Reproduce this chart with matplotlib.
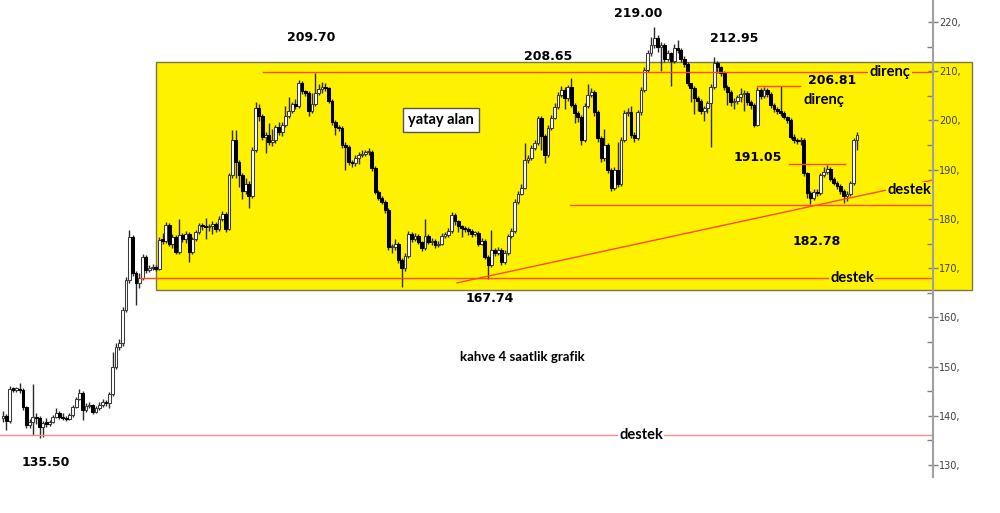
import numpy as np
import matplotlib.pyplot as plt
import matplotlib.patches as mpatches
from matplotlib.ticker import MultipleLocator, FuncFormatter

# kahve 4 saatlik mum verisi
first_open = 139.5
closes = [
    140.0, 139.0, 145.5, 145.3, 145.4, 145.2, 141.8, 138.1, 138.8, 139.8,
    139.5, 137.7, 138.6, 138.4, 138.8, 139.8, 140.5, 139.8, 139.6, 139.4,
    140.2, 141.8, 143.4, 144.6, 141.2, 142.0, 142.2, 140.8, 141.6, 142.2,
    142.8, 142.6, 144.4, 150.0, 154.0, 154.8, 161.5, 167.6, 176.3, 169.0,
    167.0, 168.0, 172.3, 169.6, 170.0, 170.2, 169.8, 175.7,
    175.6, 178.8, 175.0, 176.4, 173.3, 176.8, 176.0, 177.0, 173.3, 176.0,
    177.3, 178.8, 178.6, 178.3, 178.5, 179.0, 178.0, 180.0, 181.0, 178.0,
    188.9, 196.0, 191.6, 188.9, 185.6, 187.0, 184.7, 194.0, 202.6, 201.0,
    196.7, 197.0, 195.7, 196.0, 198.6, 197.7, 199.0, 201.0, 202.0, 203.4,
    203.0, 207.6, 206.0, 205.6, 202.0, 203.4, 205.6, 206.4, 206.8, 206.6,
    204.0, 199.6, 198.6, 198.4, 195.0, 194.6, 191.6, 191.4,
    192.4, 193.0, 193.2, 193.6, 193.6, 190.4, 185.5, 184.3, 183.5, 181.8,
    174.3, 174.3, 175.0, 171.7, 170.0, 172.4, 177.0, 176.0, 176.6, 175.3,
    174.0, 176.6, 175.3, 175.6, 174.6, 175.0, 176.6, 176.8, 177.6, 180.8,
    179.5, 178.5, 178.2, 178.0, 177.6, 177.0, 177.2, 175.0, 175.6, 172.3,
    170.6, 173.6, 173.0, 173.6, 171.2, 173.0, 176.6, 177.6, 183.5, 185.0,
    186.3, 192.0, 192.4, 194.4, 195.4, 200.5, 196.8,
    193.0, 198.5, 200.5, 202.8, 205.2, 206.2, 204.5, 206.8, 203.2, 201.5,
    200.8, 196.0, 203.0, 205.2, 205.8, 201.8, 196.4, 192.4, 195.0, 190.0,
    186.3, 190.0, 187.0, 196.0, 201.5, 201.8, 197.0, 196.5, 201.7, 206.2,
    210.3, 213.7, 215.4, 216.7, 215.0, 215.4, 212.4, 213.7, 212.0, 214.7,
    214.4, 212.4, 211.4, 207.6, 206.6, 204.5, 204.0, 202.0,
    202.5, 203.5, 206.8, 211.7, 210.8, 209.7, 206.8, 205.8, 203.8, 204.0,
    204.7, 205.4, 205.6, 203.8, 203.1, 199.1, 206.2, 205.0, 206.2, 205.4,
    203.2, 202.4, 202.0, 201.6, 200.7, 200.0, 196.7, 196.0, 195.8, 196.0,
    189.3, 185.3, 184.2, 185.5, 185.3, 189.0, 189.6, 190.2, 188.2, 187.3,
    186.6, 185.6, 184.6, 185.0, 187.3, 196.0, 197.0,
]
highs = [
    141.0, 140.4, 146.0, 145.8, 145.9, 146.6, 145.6, 142.0, 139.4, 146.5,
    140.6, 140.0, 139.0, 139.6, 139.2, 140.2, 141.5, 140.9, 140.6, 140.0,
    140.6, 142.2, 143.8, 145.4, 145.0, 142.6, 142.8, 142.4, 142.0, 142.8,
    143.4, 143.2, 144.8, 153.0, 154.8, 155.6, 162.0, 168.2, 177.8, 176.8,
    169.4, 169.0, 172.8, 172.6, 170.6, 170.8, 170.6, 176.4,
    177.2, 179.4, 179.2, 177.0, 176.8, 180.0, 177.2, 177.6, 177.4, 176.4,
    177.8, 179.2, 179.2, 180.2, 179.0, 179.6, 179.4, 180.6, 181.6, 181.4,
    189.4, 198.0, 198.0, 192.0, 189.4, 188.4, 187.6, 194.6, 203.8, 203.4,
    201.4, 197.6, 199.4, 198.2, 199.0, 199.6, 199.6, 203.0, 204.8, 203.8,
    204.4, 208.2, 208.0, 206.2, 206.0, 205.6, 209.7, 207.4, 207.8, 207.6,
    206.8, 204.4, 200.0, 199.0, 198.8, 195.6, 195.0, 192.0,
    193.0, 193.6, 194.0, 194.0, 194.4, 194.0, 190.8, 185.8, 184.6, 183.8,
    182.2, 175.0, 176.0, 175.4, 172.0, 173.0, 177.6, 177.4, 177.2, 177.0,
    175.6, 180.0, 177.0, 176.2, 176.0, 175.6, 177.2, 177.4, 178.2, 181.4,
    181.2, 179.8, 178.8, 178.6, 178.4, 178.0, 177.6, 177.6, 176.2, 176.0,
    172.6, 177.8, 174.0, 174.2, 174.0, 173.6, 177.0, 178.2, 184.0, 185.6,
    187.0, 195.4, 193.0, 195.0, 196.0, 201.0, 201.0,
    197.2, 199.0, 201.2, 203.6, 205.8, 207.0, 206.8, 207.2, 208.65, 203.6,
    202.0, 201.2, 203.6, 207.4, 206.6, 206.2, 202.2, 196.8, 198.2, 195.4,
    190.4, 190.6, 195.6, 196.6, 202.2, 202.6, 203.0, 197.6, 202.2, 206.8,
    210.8, 214.4, 217.0, 219.0, 217.4, 216.0, 215.8, 214.4, 214.0, 215.6,
    216.4, 214.8, 213.0, 211.8, 207.6, 207.0, 205.0, 204.4,
    203.0, 204.0, 207.4, 212.95, 212.0, 211.0, 210.0, 207.2, 206.2, 204.6,
    205.2, 206.6, 206.2, 206.0, 204.2, 203.6, 206.8, 206.6, 206.8, 206.6,
    205.8, 203.6, 202.8, 207.0, 202.0, 201.0, 200.4, 197.2, 196.4, 196.6,
    196.4, 189.6, 185.6, 186.0, 186.0, 189.4, 190.6, 191.05, 190.6, 188.6,
    187.8, 187.0, 186.0, 185.6, 187.8, 196.4, 197.6,
]
lows = [
    138.8, 137.2, 138.6, 144.8, 144.9, 144.6, 141.2, 137.5, 137.6, 136.0,
    138.4, 135.5, 135.7, 137.8, 138.0, 138.5, 139.6, 139.4, 139.2, 139.0,
    139.2, 139.8, 141.5, 143.2, 139.1, 140.8, 141.6, 140.4, 140.5, 141.2,
    141.8, 142.0, 141.6, 144.0, 149.5, 153.4, 154.2, 161.0, 167.0, 168.4,
    162.5, 166.0, 167.6, 169.0, 169.2, 169.6, 169.4, 169.6,
    175.0, 175.2, 174.4, 174.0, 172.8, 172.8, 175.4, 175.2, 171.3, 172.8,
    175.6, 177.0, 177.8, 176.0, 177.6, 177.0, 177.4, 177.6, 179.6, 177.4,
    177.8, 188.4, 188.4, 186.4, 184.0, 185.0, 182.2, 184.2, 193.6, 199.8,
    196.0, 193.4, 195.0, 194.8, 195.4, 197.0, 196.8, 198.6, 200.6, 201.6,
    202.4, 202.6, 205.4, 205.0, 201.0, 201.6, 203.0, 205.2, 205.6, 206.0,
    203.6, 199.0, 197.0, 197.8, 194.4, 190.0, 191.0, 190.6,
    190.8, 191.2, 192.6, 192.8, 193.0, 189.8, 185.0, 183.8, 183.0, 181.2,
    173.6, 173.0, 173.6, 171.0, 166.2, 169.4, 172.0, 175.4, 175.6, 174.8,
    173.4, 173.6, 174.8, 174.6, 174.0, 174.2, 174.6, 176.2, 176.4, 177.2,
    178.8, 177.4, 176.4, 177.4, 176.8, 176.4, 176.6, 174.4, 174.6, 171.8,
    167.7, 170.2, 172.4, 172.6, 170.6, 170.8, 172.6, 176.2, 177.2, 183.0,
    184.8, 186.0, 191.4, 192.0, 194.0, 195.0, 194.0,
    191.4, 192.6, 198.0, 200.2, 202.4, 204.8, 202.4, 204.0, 202.8, 199.4,
    199.6, 195.0, 195.6, 202.6, 204.8, 201.0, 195.6, 191.6, 191.8, 189.4,
    185.6, 185.8, 186.4, 186.6, 195.6, 201.0, 196.4, 195.6, 196.0, 201.2,
    205.8, 209.8, 213.0, 214.8, 214.0, 210.0, 211.8, 212.0, 207.0, 211.6,
    213.8, 211.8, 210.8, 207.0, 203.8, 201.4, 202.0, 201.4,
    199.8, 201.6, 194.6, 206.4, 209.6, 209.0, 206.2, 203.2, 203.0, 202.4,
    203.4, 203.8, 202.0, 203.2, 202.4, 198.6, 198.8, 204.4, 204.6, 204.8,
    202.6, 201.8, 201.4, 201.0, 200.2, 199.4, 196.2, 195.4, 195.2, 195.0,
    188.8, 184.2, 183.0, 183.8, 184.6, 184.8, 188.6, 189.2, 187.6, 186.8,
    186.0, 185.0, 183.3, 183.6, 184.6, 186.8, 194.0,
]

# destek / direnc seviyeleri
resistance = 209.9
resistance2 = 206.9
mid_level = 191.2
support_main = 168.0
support_2 = 182.8
support_low = 136.1
trend_start, trend_end = 167.0, 187.9
box_low, box_high = 165.55, 211.9

# piksel -> veri donusumu (1000x513 tuval)
BAR_PX = 3.323
X0_PX = 3
AX_W = 933
AX_H = 477


def px2x(p):
    return (p - X0_PX) / BAR_PX


def py2v(y):
    return 130 + (465 - y) / 4.922


fig = plt.figure(figsize=(10, 5.13), dpi=100)
ax = fig.add_axes([0, (513 - AX_H) / 513, AX_W / 1000, AX_H / 513])

o = np.array([first_open] + closes[:-1])
c = np.array(closes)
h = np.array(highs)
l = np.array(lows)
idx = np.arange(len(c))
up = c >= o

# yatay alan kutusu
rect = mpatches.Rectangle((px2x(156), box_low), px2x(972) - px2x(156), box_high - box_low,
                          facecolor='#fff200', edgecolor='#77774a', lw=1, zorder=0, clip_on=False)
ax.add_patch(rect)

# mumlar
ax.vlines(idx, l, h, color='#2a2a2a', lw=1.0, zorder=2)
body_lo = np.minimum(o, c)
body_h = np.maximum(np.abs(c - o), 0.25)
ax.bar(idx[up], body_h[up], bottom=body_lo[up], width=0.85, color='white',
       edgecolor='#3a3a3a', linewidth=0.75, zorder=3)
ax.bar(idx[~up], body_h[~up], bottom=body_lo[~up], width=0.85, color='black',
       edgecolor='black', linewidth=0.75, zorder=3)

# cizgiler
red = '#ff4a10'
xe = px2x(AX_W)
ax.plot([px2x(263), xe], [resistance] * 2, color=red, lw=1, zorder=4)
ax.plot([px2x(140), xe], [support_main] * 2, color=red, lw=1, zorder=4)
ax.plot([px2x(570), xe], [support_2] * 2, color=red, lw=1, zorder=4)
ax.plot([px2x(457), xe], [trend_start, trend_end], color=red, lw=1, zorder=4)
ax.plot([px2x(789), px2x(845)], [mid_level] * 2, color=red, lw=1, zorder=4)
ax.plot([px2x(757), px2x(800)], [resistance2] * 2, color=red, lw=1, zorder=4)
ax.plot([px2x(0), xe], [support_low] * 2, color='#ff8a8a', lw=1, zorder=4)

num_font = dict(family='DejaVu Sans', fontweight='bold', fontsize=9, color='black')
word_font = dict(family='Lato', fontweight='bold', fontsize=10.5, color='black')


def tx(px, py, s, style, **kw):
    ax.text(px2x(px), py2v(py), s, ha='center', va='center', zorder=6, **style, **kw)


tx(311, 37, '209.70', num_font)
tx(638, 13, '219.00', num_font)
tx(548, 56, '208.65', num_font)
tx(734, 38, '212.95', num_font)
tx(832, 80, '206.81', num_font)
tx(758, 157, '191.05', num_font)
tx(817, 241, '182.78', num_font)
tx(490, 298, '167.74', num_font)
tx(46, 463, '135.50', num_font)

tx(824, 100, 'direnç', word_font)
tx(890, 72, 'direnç', word_font, bbox=dict(facecolor='#fff200', edgecolor='none', pad=1))
tx(909, 190, 'destek', word_font, bbox=dict(facecolor='#fff200', edgecolor='none', pad=1))
tx(852, 278, 'destek', word_font, bbox=dict(facecolor='#fff200', edgecolor='none', pad=1))
tx(641, 435, 'destek', word_font, bbox=dict(facecolor='white', edgecolor='none', pad=1))
tx(441, 120, 'yatay alan', word_font,
   bbox=dict(facecolor='white', edgecolor='#555555', boxstyle='square,pad=0.35'))
tx(522, 357, 'kahve 4 saatlik grafik', dict(family='Lato', fontweight='bold', fontsize=9.5, color='black'))

# eksenler
ax.set_xlim(px2x(0), px2x(AX_W))
ax.set_ylim(py2v(AX_H), py2v(0))
for s in ['top', 'left', 'bottom']:
    ax.spines[s].set_visible(False)
ax.spines['right'].set_color('#a0a0a0')
ax.spines['right'].set_linewidth(1.5)
ax.spines['right'].set_zorder(5)
ax.set_xticks([])
ax.yaxis.tick_right()
ax.yaxis.set_major_locator(MultipleLocator(10))
ax.yaxis.set_minor_locator(MultipleLocator(5))
ax.yaxis.set_major_formatter(FuncFormatter(lambda v, p: f'{int(round(v))},'))
ax.tick_params(axis='y', which='major', direction='inout', length=7, width=1,
               color='#808080', labelsize=7, labelcolor='#404040', pad=1)
ax.tick_params(axis='y', which='minor', direction='in', length=4, width=1, color='#808080')

fig.savefig('out.png', dpi=100)
